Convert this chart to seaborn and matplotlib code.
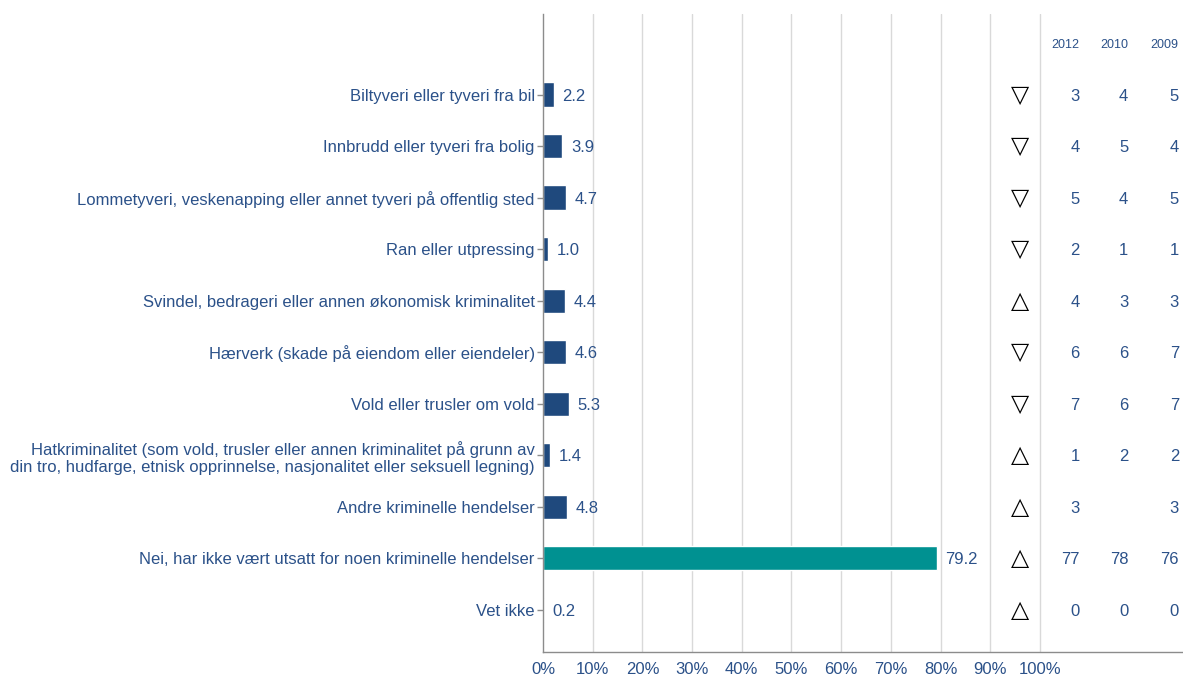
import numpy as np
import pandas as pd
import matplotlib
matplotlib.use("Agg")
import matplotlib.pyplot as plt
import seaborn as sns

categories = [
    "Biltyveri eller tyveri fra bil",
    "Innbrudd eller tyveri fra bolig",
    "Lommetyveri, veskenapping eller annet tyveri på offentlig sted",
    "Ran eller utpressing",
    "Svindel, bedrageri eller annen økonomisk kriminalitet",
    "Hærverk (skade på eiendom eller eiendeler)",
    "Vold eller trusler om vold",
    "Hatkriminalitet (som vold, trusler eller annen kriminalitet på grunn av\n"
    "din tro, hudfarge, etnisk opprinnelse, nasjonalitet eller seksuell legning)",
    "Andre kriminelle hendelser",
    "Nei, har ikke vært utsatt for noen kriminelle hendelser",
    "Vet ikke",
]
values = [2.2, 3.9, 4.7, 1.0, 4.4, 4.6, 5.3, 1.4, 4.8, 79.2, 0.2]
groups = ["crime"] * 9 + ["none", "unknown"]
trend = ["down", "down", "down", "down", "up", "down", "down", "up", "up", "up", "up"]
years = ["2012", "2010", "2009"]
val_2012 = [3, 4, 5, 2, 4, 6, 7, 1, 3, 77, 0]
val_2010 = [4, 5, 4, 1, 3, 6, 6, 2, None, 78, 0]
val_2009 = [5, 4, 5, 1, 3, 7, 7, 2, 3, 76, 0]

dark = "#1F497D"
teal = "#009191"
txt = "#2B5189"
grid_c = "#D9D9D9"
spine_c = "#8C8C8C"

df = pd.DataFrame({"kategori": categories, "andel": values, "gruppe": groups})

sns.set_theme(style="white")
plt.rcParams["font.family"] = ["Liberation Sans", "DejaVu Sans"]

fig = plt.figure(figsize=(11.83, 6.79), dpi=100)
ax = fig.add_axes([0.459, 0.040, 0.541, 0.939])

sns.barplot(data=df, y="kategori", x="andel", hue="gruppe", orient="h",
            palette={"crime": dark, "none": teal, "unknown": "#7F7F7F"},
            dodge=False, width=0.47, legend=False, ax=ax, saturation=1)

ax.set_xlim(0, 128.8)
ax.set_ylim(10.82, -1.56)
ax.set_xticks(np.arange(0, 101, 10))
ax.set_xticklabels([f"{t}%" for t in range(0, 101, 10)])
ax.set_xlabel("")
ax.set_ylabel("")

for t in range(10, 101, 10):
    ax.axvline(t, color=grid_c, lw=1, zorder=0)

for s in ["top", "right"]:
    ax.spines[s].set_visible(False)
for s in ["left", "bottom"]:
    ax.spines[s].set_color(spine_c)
    ax.spines[s].set_linewidth(1)

ax.tick_params(axis="x", colors=spine_c, length=5, width=1, labelcolor=txt,
               labelsize=12, pad=2)
ax.tick_params(axis="y", colors=spine_c, length=4, width=1, labelcolor=txt,
               labelsize=12, pad=2, left=True)

for i, v in enumerate(values):
    ax.text(v + 1.7, i, f"{v:.1f}", va="center_baseline", ha="left", color=txt,
            fontsize=12)
    sym = "▽" if trend[i] == "down" else "△"
    ax.text(96, i, sym, va="center", ha="center", color="black", fontsize=17,
            family=["DejaVu Sans"])
    for col, arr in zip([108.0, 117.8, 128.0], [val_2012, val_2010, val_2009]):
        if arr[i] is not None:
            ax.text(col, i, str(arr[i]), va="center_baseline", ha="right",
                    color=txt, fontsize=12)

for col, yr in zip([108.0, 117.8, 127.8], years):
    ax.text(col, -1, yr, va="center_baseline", ha="right", color=txt, fontsize=9)

fig.savefig("out.png", dpi=100)
